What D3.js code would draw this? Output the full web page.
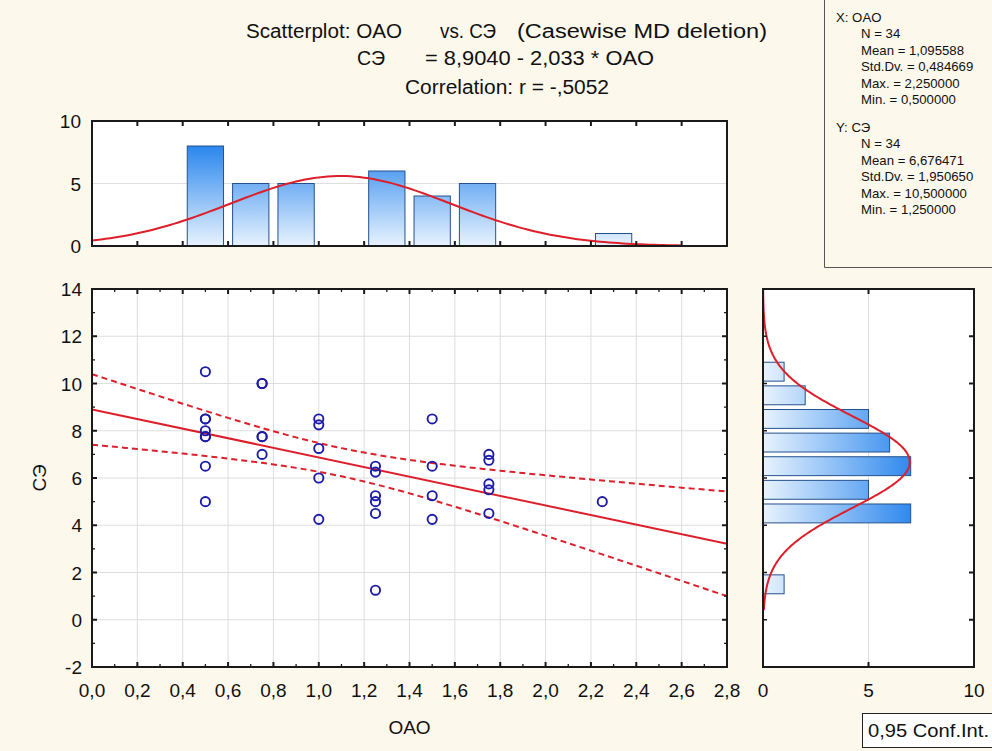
<!DOCTYPE html>
<html><head><meta charset="utf-8">
<script src="https://cdn.jsdelivr.net/npm/d3@7"></script>
<style>
body{margin:0;background:#fcf8ec;}
svg{display:block;font-family:"Liberation Sans",Arial,sans-serif;}
</style>
</head><body>
<svg id="chart" width="992" height="751"></svg>
<script>
// ---------- data ----------
const oao = [0.5,0.5,0.5,0.5,0.5,0.5,0.5,0.5,
             0.75,0.75,0.75,0.75,0.75,
             1.0,1.0,1.0,1.0,1.0,
             1.25,1.25,1.25,1.25,1.25,1.25,
             1.5,1.5,1.5,1.5,
             1.75,1.75,1.75,1.75,1.75,
             2.25];
const se  = [10.5,8.5,8.5,8.0,7.75,7.75,6.5,5.0,
             10.0,10.0,7.75,7.75,7.0,
             8.5,8.25,7.25,6.0,4.25,
             6.5,6.25,5.25,5.0,4.5,1.25,
             8.5,6.5,5.25,4.25,
             7.0,6.75,5.75,5.5,4.5,
             5.0];
const topBinStart   = [0.4,0.6,0.8,1.2,1.4,1.6,2.2];
const topBinCount   = [8,5,5,6,4,5,1];
const topBinWidth   = 0.2;
const rightBinStart = [1,4,5,6,7,8,9,10];
const rightBinCount = [1,7,5,7,6,5,2,1];
const rightBinWidth = 1;
const xTicks = [0,0.2,0.4,0.6,0.8,1.0,1.2,1.4,1.6,1.8,2.0,2.2,2.4,2.6,2.8];
const yTicks = [-2,0,2,4,6,8,10,12,14];
const topHistTicks = [0,5,10];
const rightHistTicks = [0,5,10];
const regIntercept = 8.9040, regSlope = -2.033, tCrit = 2.0369;
const statX = {name:"OAO", n:34, mean:1.095588, sd:0.484669, max:2.25, min:0.5};
const statY = {name:"СЭ", n:34, mean:6.676471, sd:1.950650, max:10.5, min:1.25};
const statsXLines = ["X:  OAO","N = 34","Mean = 1,095588","Std.Dv. = 0,484669","Max. = 2,250000","Min. = 0,500000"];
const statsYLines = ["Y:  СЭ","N = 34","Mean = 6,676471","Std.Dv. = 1,950650","Max. = 10,500000","Min. = 1,250000"];

// ---------- setup ----------
const svg = d3.select("#chart");
const fmt = v => d3.format(".1f")(v).replace(".", ",");
const AX = "#1a1a1a", GRID = "#dedede", RED = "#dd1f2b", BLUE = "#1c1ca8";

const x = d3.scaleLinear([0, 2.8], [92, 727]);
const y = d3.scaleLinear([-2, 14], [667, 289]);
const topY = d3.scaleLinear([0, 10], [246, 121]);
const rightX = d3.scaleLinear([0, 10], [763, 974]);

const defs = svg.append("defs");
const gv = defs.append("linearGradient").attr("id","gv").attr("gradientUnits","userSpaceOnUse")
  .attr("x1",0).attr("x2",0).attr("y1",topY(0)).attr("y2",topY(8));
gv.append("stop").attr("offset",0).attr("stop-color","#e8f3fe");
gv.append("stop").attr("offset",1).attr("stop-color","#2a86ee");
const gh = defs.append("linearGradient").attr("id","gh").attr("gradientUnits","userSpaceOnUse")
  .attr("y1",0).attr("y2",0).attr("x1",rightX(0)).attr("x2",rightX(7.2));
gh.append("stop").attr("offset",0).attr("stop-color","#e8f3fe");
gh.append("stop").attr("offset",1).attr("stop-color","#2a86ee");
defs.append("clipPath").attr("id","clipMain").append("rect")
  .attr("x",x(0)).attr("y",y(14)).attr("width",x(2.8)-x(0)).attr("height",y(-2)-y(14));

// ---------- titles ----------
function txt(s, xx, yy, size, len, anchor){
  const t = svg.append("text").attr("x",xx).attr("y",yy).attr("font-size",size)
    .attr("fill","#111").text(s);
  if (len) t.attr("textLength",len).attr("lengthAdjust","spacingAndGlyphs");
  if (anchor) t.attr("text-anchor",anchor);
  return t;
}
txt("Scatterplot: OAO", 246, 38, 20, 156);
txt("vs. СЭ", 440, 38, 20, 56);
txt("(Casewise MD deletion)", 517, 38, 20, 250);
txt("СЭ", 357, 65, 20, 28);
txt("= 8,9040 - 2,033  * OAO", 425, 65, 20, 229);
txt("Correlation: r = -,5052", 405, 94, 20, 204);

// ---------- stats box ----------
svg.append("path").attr("d","M824.5,0 V267.5 H992").attr("fill","none").attr("stroke","#555").attr("stroke-width",1);
statsXLines.forEach((s,i)=> txt(s, i===0?836:861, 22 + i*16.4, 13.2));
statsYLines.forEach((s,i)=> txt(s, i===0?836:861, 132 + i*16.4, 13.2));

// ---------- main scatter ----------
const mainG = svg.append("g");
mainG.append("rect").attr("x",x(0)).attr("y",y(14)).attr("width",x(2.8)-x(0)).attr("height",y(-2)-y(14)).attr("fill","#fff");
mainG.selectAll(".gx").data(xTicks.slice(1,-1)).join("line")
  .attr("x1",d=>x(d)).attr("x2",d=>x(d)).attr("y1",y(-2)).attr("y2",y(14)).attr("stroke",GRID);
mainG.selectAll(".gy").data(yTicks.slice(1,-1)).join("line")
  .attr("y1",d=>y(d)).attr("y2",d=>y(d)).attr("x1",x(0)).attr("x2",x(2.8)).attr("stroke",GRID);

// confidence bands
const n = oao.length, xbar = d3.mean(oao);
const Sxx = d3.sum(oao, v => (v - xbar) ** 2);
const sRes = Math.sqrt(d3.sum(oao.map((v,i)=> (se[i] - (regIntercept + regSlope*v)) ** 2)) / (n - 2));
const band = (xv, sgn) => regIntercept + regSlope*xv + sgn*tCrit*sRes*Math.sqrt(1/n + (xv-xbar)**2/Sxx);
const xs = d3.range(0, 2.8001, 0.05);
const lg = mainG.append("g").attr("clip-path","url(#clipMain)");
[1,-1].forEach(sgn => lg.append("path")
  .attr("d", d3.line().x(d=>x(d)).y(d=>y(band(d,sgn)))(xs))
  .attr("fill","none").attr("stroke",RED).attr("stroke-width",2).attr("stroke-dasharray","6,4"));
lg.append("line").attr("x1",x(0)).attr("x2",x(2.8))
  .attr("y1",y(regIntercept)).attr("y2",y(regIntercept+regSlope*2.8))
  .attr("stroke",RED).attr("stroke-width",2);

mainG.selectAll(".pt").data(oao.map((v,i)=>[v,se[i]])).join("circle")
  .attr("cx",d=>x(d[0])).attr("cy",d=>y(d[1])).attr("r",4.6)
  .attr("fill","none").attr("stroke",BLUE).attr("stroke-width",1.9);

// frame + ticks
function frame(g, x0, y0, x1, y1){
  g.append("rect").attr("x",x0).attr("y",y0).attr("width",x1-x0).attr("height",y1-y0)
    .attr("fill","none").attr("stroke",AX).attr("stroke-width",2);
}
function tick(g, x1,y1,x2,y2,w){ g.append("line").attr("x1",x1).attr("y1",y1).attr("x2",x2).attr("y2",y2).attr("stroke",AX).attr("stroke-width",w); }
frame(mainG, x(0), y(14), x(2.8), y(-2));
d3.range(0, 2.8001, 0.1).forEach((v,i)=>{
  const major = i%2===0, L = major?5:3, w = major?2:1.3;
  tick(mainG, x(v), y(-2), x(v), y(-2)-L, w);
  tick(mainG, x(v), y(14), x(v), y(14)+L, w);
});
d3.range(-2, 14.001, 1).forEach((v,i)=>{
  const major = i%2===0, L = major?5:3, w = major?2:1.3;
  tick(mainG, x(0), y(v), x(0)+L, y(v), w);
  tick(mainG, x(2.8), y(v), x(2.8)-L, y(v), w);
});
mainG.selectAll(".xl").data(xTicks).join("text").attr("x",d=>x(d)).attr("y",697)
  .attr("text-anchor","middle").attr("font-size",19).attr("fill","#111").text(fmt);
mainG.selectAll(".yl").data(yTicks).join("text").attr("x",82).attr("y",d=>y(d)+7)
  .attr("text-anchor","end").attr("font-size",19).attr("fill","#111").text(d=>d);
txt("OAO", 409.5, 734, 19, null, "middle");
svg.append("text").attr("transform","translate(46,478) rotate(-90)").attr("text-anchor","middle")
  .attr("font-size",19).attr("fill","#111").text("СЭ");

// ---------- top histogram ----------
const topG = svg.append("g");
topG.append("rect").attr("x",x(0)).attr("y",topY(10)).attr("width",x(2.8)-x(0)).attr("height",topY(0)-topY(10)).attr("fill","#fff");
topG.append("line").attr("x1",x(0)).attr("x2",x(2.8)).attr("y1",topY(5)).attr("y2",topY(5)).attr("stroke",GRID);
topG.selectAll(".tb").data(topBinStart.map((b,i)=>[b,topBinCount[i]])).join("rect")
  .attr("x",d=>x(d[0]+topBinWidth*0.1)).attr("width",d=>x(d[0]+topBinWidth*0.9)-x(d[0]+topBinWidth*0.1))
  .attr("y",d=>topY(d[1])).attr("height",d=>topY(0)-topY(d[1]))
  .attr("fill","url(#gv)").attr("stroke","#24508e").attr("stroke-width",1);
const nx = d3.range(0, 2.62, 0.02);
topG.append("path").attr("d", d3.line().x(d=>x(d))
  .y(d=>topY(statX.n*topBinWidth*Math.exp(-0.5*((d-statX.mean)/statX.sd)**2)/(statX.sd*Math.sqrt(2*Math.PI))))(nx))
  .attr("fill","none").attr("stroke",RED).attr("stroke-width",2);
frame(topG, x(0), topY(10), x(2.8), topY(0));
d3.range(0, 2.8001, 0.2).forEach(v=>{
  tick(topG, x(v), topY(0), x(v), topY(0)-5, 2);
  tick(topG, x(v), topY(10), x(v), topY(10)+5, 2);
});
topG.selectAll(".tl").data(topHistTicks).join("text").attr("x",81).attr("y",d=>topY(d)+7)
  .attr("text-anchor","end").attr("font-size",19).attr("fill","#111").text(d=>d);

// ---------- right histogram ----------
const rg = svg.append("g");
rg.append("rect").attr("x",rightX(0)).attr("y",y(14)).attr("width",rightX(10)-rightX(0)).attr("height",y(-2)-y(14)).attr("fill","#fff");
rg.append("line").attr("x1",rightX(5)).attr("x2",rightX(5)).attr("y1",y(14)).attr("y2",y(-2)).attr("stroke",GRID);
rg.selectAll(".rb").data(rightBinStart.map((b,i)=>[b,rightBinCount[i]])).join("rect")
  .attr("x",rightX(0)).attr("width",d=>rightX(d[1])-rightX(0))
  .attr("y",d=>y(d[0]+rightBinWidth*0.9)).attr("height",d=>y(d[0]+rightBinWidth*0.1)-y(d[0]+rightBinWidth*0.9))
  .attr("fill","url(#gh)").attr("stroke","#24508e").attr("stroke-width",1);
const ny = d3.range(0.4, 14.001, 0.05);
rg.append("path").attr("d", d3.line().y(d=>y(d))
  .x(d=>rightX(statY.n*rightBinWidth*Math.exp(-0.5*((d-statY.mean)/statY.sd)**2)/(statY.sd*Math.sqrt(2*Math.PI))))(ny))
  .attr("fill","none").attr("stroke",RED).attr("stroke-width",2);
frame(rg, rightX(0), y(14), rightX(10), y(-2));
yTicks.forEach(v=>{
  tick(rg, rightX(10), y(v), rightX(10)-5, y(v), 2);
  tick(rg, rightX(0), y(v), rightX(0)+4, y(v), 1.5);
});
rightHistTicks.forEach(v=>{
  tick(rg, rightX(v), y(-2), rightX(v), y(-2)-5, 2);
  tick(rg, rightX(v), y(14), rightX(v), y(14)+5, 2);
});
rg.selectAll(".rl").data(rightHistTicks).join("text").attr("x",d=>rightX(d)).attr("y",697)
  .attr("text-anchor","middle").attr("font-size",19).attr("fill","#111").text(d=>d);

// ---------- legend box ----------
svg.append("rect").attr("x",862.5).attr("y",713.5).attr("width",140).attr("height",34)
  .attr("fill","#fff").attr("stroke","#222").attr("stroke-width",1);
txt("0,95 Conf.Int.", 868, 737, 18, 121);
</script>
</body></html>
